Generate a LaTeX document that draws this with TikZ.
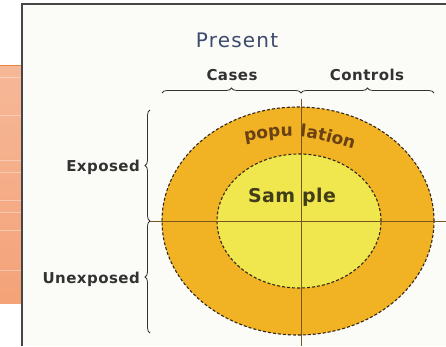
\documentclass[tikz,border=0pt]{standalone}
\usepackage{fontspec}
\setmainfont{Liberation Sans}
\newfontfamily\titlefont[LetterSpace=6]{DejaVu Sans}
\newfontfamily\labfont[LetterSpace=3]{DejaVu Sans}
\newfontfamily\ringfont[LetterSpace=2]{DejaVu Sans}
\newfontfamily\popfont[LetterSpace=7]{DejaVu Sans}
\usetikzlibrary{decorations.pathreplacing,decorations.text,shapes.geometric}
\definecolor{salmonA}{RGB}{246,184,152}
\definecolor{salmonB}{RGB}{244,162,120}
\definecolor{orangeedge}{RGB}{240,130,60}
\definecolor{framec}{RGB}{70,70,72}
\definecolor{paper}{RGB}{251,251,248}
\definecolor{popfill}{RGB}{241,178,36}
\definecolor{samfill}{RGB}{240,230,78}
\definecolor{dashc}{RGB}{50,40,25}
\definecolor{crossc}{RGB}{120,85,30}
\definecolor{titlec}{RGB}{60,74,108}
\definecolor{labelc}{RGB}{50,50,50}
\definecolor{popc}{RGB}{105,65,20}
\definecolor{samc}{RGB}{65,60,25}
\tikzset{
  ring/.style={ellipse, draw=dashc, dashed, dash pattern=on 3pt off 2pt, line width=1.1pt, inner sep=0pt},
  lab/.style={font=\labfont\fontsize{15}{17}\selectfont\bfseries, text=labelc, inner sep=1pt},
  bracec/.style={draw=labelc, line width=0.8pt, decorate, decoration={brace, amplitude=5pt}},
  cross/.style={draw=crossc, line width=0.9pt}
}
\begin{document}
\begin{tikzpicture}[x=1pt,y=-1pt]
\useasboundingbox (0,0) rectangle (446,346);
\fill[white] (0,0) rectangle (446,346);
% orange side panel
\shade[top color=salmonA,bottom color=salmonB] (0,65) rectangle (21,303);
\draw[orangeedge,line width=1pt] (0,65) -- (21,65);
\foreach \yy in {77,115,160,172,200,212,230,270}
  \draw[white,opacity=0.35,line width=0.6pt] (0,\yy) -- (21,\yy);
% picture frame
\fill[paper] (22,4) rectangle (446,346);
\draw[framec,line width=2.5pt] (22,346) -- (22,4) -- (446,4);
% ellipses
\node[ring, fill=popfill, minimum width=272pt, minimum height=228pt] (pop) at (298,221) {};
\node[ring, fill=samfill, minimum width=164pt, minimum height=134pt] (sam) at (299,221) {};
% braces
\coordinate (tl) at (162,93);
\coordinate (tm) at (301,93);
\coordinate (tr) at (434,93);
\coordinate (lt) at (150,110);
\coordinate (lm) at (150,221);
\coordinate (lb) at (150,333);
\draw[bracec] (tl) -- (tm);
\draw[bracec] (tm) -- (tr);
\draw[bracec] (lm) -- (lt);
\draw[bracec] (lb) -- (lm);
% cross lines
\coordinate (vt) at (301,99);
\coordinate (vb) at (301,346);
\coordinate (hr) at (446,221);
\draw[cross] (vt) -- (vb);
\draw[cross] (lm) -- (hr);
% texts
\node[font=\titlefont\fontsize{20}{22}\selectfont, text=titlec] (present) at (237,40) {Present};
\node[lab] (cases) at (232,75) {Cases};
\node[lab] (controls) at (367,75) {Controls};
\node[lab, anchor=east] (exposed) at (141,167) {Exposed};
\node[lab, anchor=east] (unexposed) at (141,279) {Unexposed};
\node[font=\ringfont\fontsize{19}{21}\selectfont\bfseries, text=samc] (sample) at (292,197) {Sam ple};
\path[decorate, decoration={text along path, text align=center,
  text={|\popfont\fontsize{17}{19}\selectfont\bfseries\color{popc}|popu lation}}]
  (226,145) .. controls (298,132) .. (372,155);
\end{tikzpicture}
\end{document}
